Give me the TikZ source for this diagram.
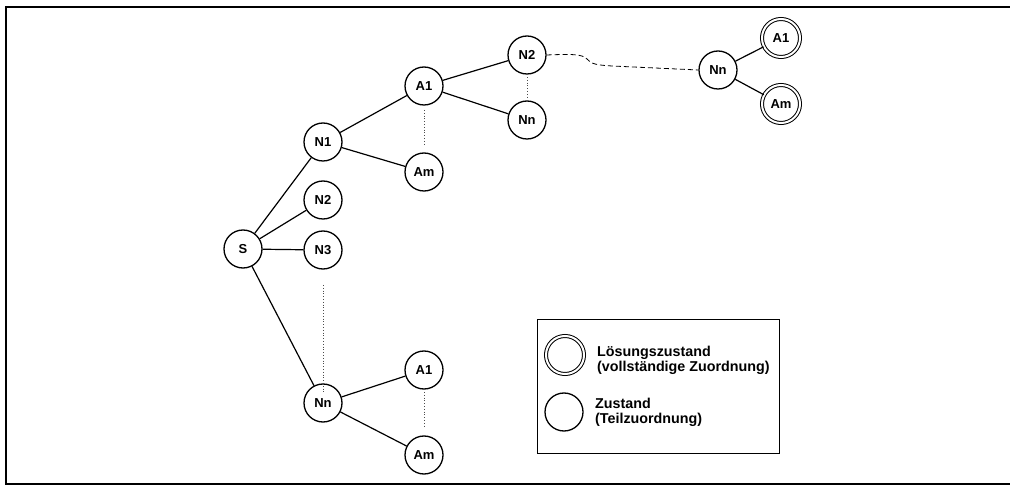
\documentclass[tikz,border=0pt]{standalone}
\usepackage{fontspec}
\setmainfont{Liberation Sans}
\begin{document}
\begin{tikzpicture}[x=1pt,y=-1pt,
  state/.style={circle,draw,line width=1.3pt,minimum size=38pt,inner sep=0pt,
    font=\fontsize{13}{14}\selectfont\bfseries},
  goal/.style={state,double,double distance=2pt,line width=1pt,minimum size=38pt},
  edge/.style={line width=1.2pt},
  gap/.style={line width=0.8pt,dotted,black!70},
  jump/.style={line width=0.8pt,dash pattern=on 5pt off 3pt},
  legtext/.style={anchor=west,align=left,inner sep=0pt,
    font=\fontsize{14.3}{15}\selectfont\bfseries}]
\useasboundingbox (0,0) rectangle (1010,486);
% outer frame (open to the right)
\draw[line width=2pt] (1012,7) -- (6,7) -- (6,484) -- (1012,484);

% states
\node[state] (S)   at (243,249) {S};
\node[state] (N1)  at (323,142) {N1};
\node[state] (N2)  at (323,200) {N2};
\node[state] (N3)  at (323,250) {N3};
\node[state] (Nn)  at (323,403) {Nn};
\node[state] (A1a) at (424,86)  {A1};
\node[state] (Ama) at (424,172) {Am};
\node[state] (A1b) at (424,370) {A1};
\node[state] (Amb) at (424,455) {Am};
\node[state] (N2a) at (527,55)  {N2};
\node[state] (Nna) at (527,120) {Nn};
\node[state] (Nnb) at (718,70)  {Nn};
\node[goal]  (A1c) at (781,38)  {A1};
\node[goal]  (Amc) at (781,104) {Am};

% branches
\draw[edge] (S) -- (N1);
\draw[edge] (S) -- (N2);
\draw[edge] (S) -- (N3);
\draw[edge] (S) -- (Nn);
\draw[edge] (N1) -- (A1a);
\draw[edge] (N1) -- (Ama);
\draw[edge] (A1a) -- (N2a);
\draw[edge] (A1a) -- (Nna);
\draw[edge] (Nn) -- (A1b);
\draw[edge] (Nn) -- (Amb);
\draw[edge] (Nnb) -- (A1c);
\draw[edge] (Nnb) -- (Amc);

% omitted siblings
\coordinate (g1) at (424,110);
\coordinate (g2) at (424,145);
\draw[gap] (g1) -- (g2);
\coordinate (g3) at (527,77);
\coordinate (g4) at (527,98);
\draw[gap] (g3) -- (g4);
\coordinate (g5) at (323,285);
\coordinate (g6) at (323,393);
\draw[gap] (g5) -- (g6);
\coordinate (g7) at (424,392);
\coordinate (g8) at (424,428);
\draw[gap] (g7) -- (g8);

% omitted path down to the goal states
\draw[jump] (N2a.east) .. controls (572,54) and (582,54) .. (587,59)
  .. controls (591,64) and (596,65) .. (612,66) -- (Nnb.west);

% legend
\node[draw,line width=1pt,minimum width=242pt,minimum height=134pt,anchor=north west]
  (leg) at (537,319) {};
\node[goal] (lg1) at (565,355) {};
\node[state] (lg2) at (564,412) {};
\node[legtext] (lt1) at (597,360) {Lösungszustand\\(vollständige Zuordnung)};
\node[legtext] (lt2) at (595,412) {Zustand\\(Teilzuordnung)};
\end{tikzpicture}
\end{document}
